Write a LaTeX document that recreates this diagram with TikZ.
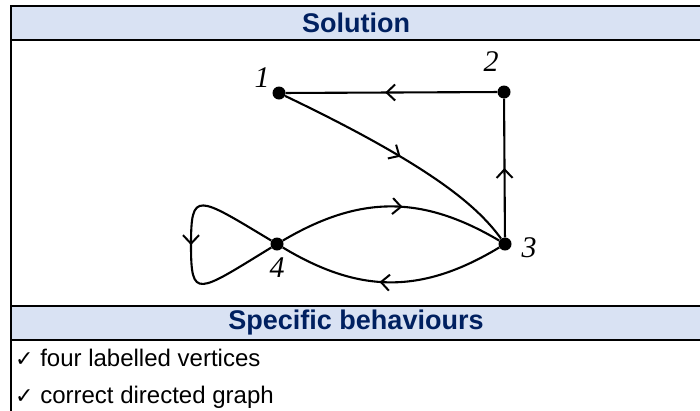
\documentclass[tikz,border=0pt]{standalone}
\usepackage{fontspec}
\setmainfont{Liberation Sans}
\newfontfamily\dejavu{DejaVu Sans}
\newfontfamily\vserif{Liberation Serif}
\usetikzlibrary{arrows.meta,decorations.markings}
\definecolor{hdrfill}{HTML}{D9E2F3}
\definecolor{hdrtext}{HTML}{002060}
\tikzset{
  dot/.style={circle,fill=black,inner sep=0pt,minimum size=13pt},
  edge/.style={line width=2.1pt,black},
  midarrow/.style={postaction={decorate,decoration={markings,
     mark=at position #1 with {\arrow{Straight Barb[length=8.5pt,width=16pt,line width=2pt]}}}}},
  vlabel/.style={font=\vserif\itshape\fontsize{30}{32}\selectfont,inner sep=0pt},
  hdr/.style={font=\bfseries\fontsize{27}{30}\selectfont,text=hdrtext,inner sep=0pt},
  item/.style={font=\fontsize{24}{28}\selectfont,anchor=base west,inner sep=0pt},
  rule/.style={line width=2.2pt,black}
}
\begin{document}
\begin{tikzpicture}[x=1pt,y=-1pt]
\useasboundingbox (0,0) rectangle (700,410);
\clip (0,0) rectangle (700,410);
% table
\fill[hdrfill] (11,6) rectangle (705,40);
\fill[hdrfill] (11,306) rectangle (705,340);
\draw[rule] (11,6) -- (705,6);
\draw[rule] (11,40) -- (705,40);
\draw[rule] (11,306) -- (705,306);
\draw[rule] (11,340) -- (705,340);
\draw[rule] (11,5) -- (11,412);
\node[hdr] (h1) at (356,23) {Solution};
\node[hdr] (h2) at (356,323) {Specific behaviours};
\node[item] (c1) at (15,366) {{\dejavu\fontsize{22}{24}\selectfont ✓} four labelled vertices};
\node[item] (c2) at (15,403) {{\dejavu\fontsize{22}{24}\selectfont ✓} correct directed graph};
% graph
\node[dot] (n1) at (279,93) {};
\node[dot] (n2) at (504,92) {};
\node[dot] (n3) at (505,244) {};
\node[dot] (n4) at (277,244) {};
\node[vlabel] (l1) at (262,78) {1};
\node[vlabel] (l2) at (491,62) {2};
\node[vlabel] (l3) at (529,248) {3};
\node[vlabel] (l4) at (277,268) {4};
\coordinate (loopL) at (191,245);
\draw[edge,midarrow=0.53] (n2) -- (n1);
\draw[edge,midarrow=0.5] (n3) -- (n2);
\draw[edge,midarrow=0.5] (n1) .. controls (440,170) and (480,210) .. (n3);
\draw[edge,midarrow=0.55] (n4) .. controls (360,195) and (422,195) .. (n3);
\draw[edge,midarrow=0.55] (n3) .. controls (422,294) and (360,294) .. (n4);
\draw[edge,midarrow=0.5] (n4) .. controls (197,196) and (191,190) .. (loopL)
   .. controls (191,300) and (197,293) .. (n4);
\end{tikzpicture}
\end{document}
